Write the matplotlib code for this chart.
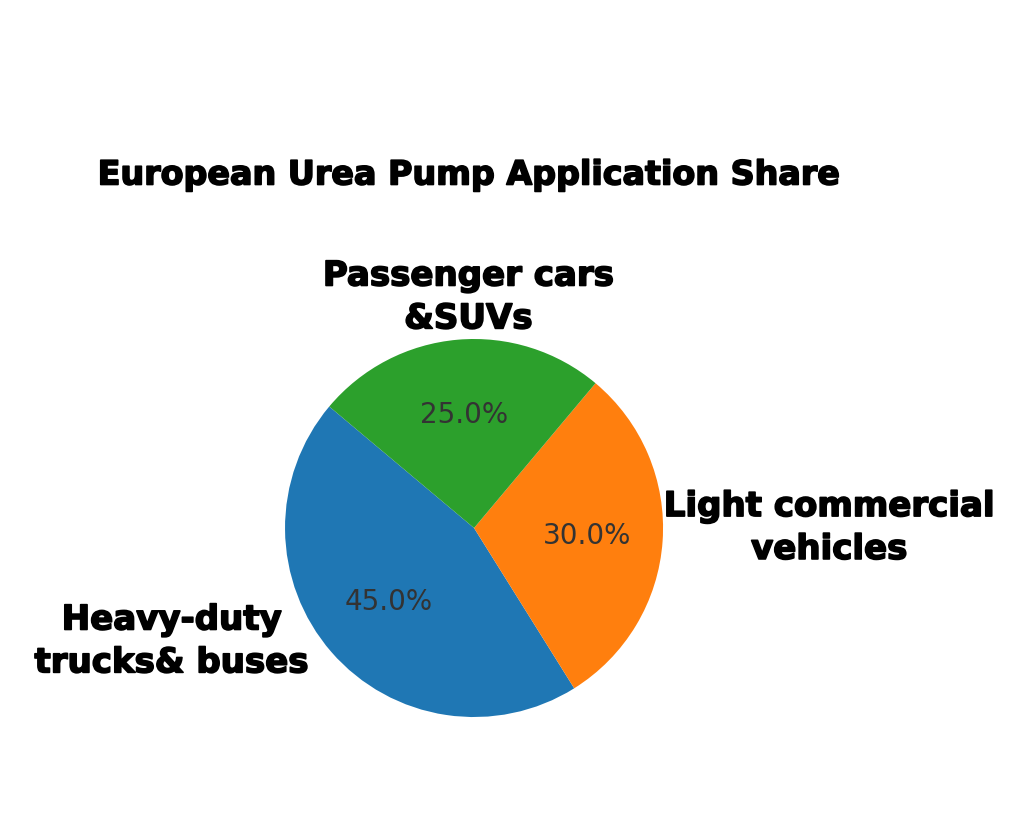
import matplotlib
matplotlib.use("Agg")
import matplotlib.pyplot as plt
import matplotlib.patheffects as pe

# data
labels = ["Heavy-duty\ntrucks& buses", "Light commercial\nvehicles", "Passenger cars\n&SUVs"]
shares = [45, 30, 25]
colors = ["#1f77b4", "#ff7f0e", "#2ca02c"]

# where the category labels sit (in pie radii from the centre)
label_pos = [(-1.60, -0.60), (1.88, 0.0), (-0.03, 1.22)]

heavy = [pe.withStroke(linewidth=1.2, foreground="black")]

fig = plt.figure(figsize=(10.14, 8.35), dpi=100)
ax = fig.add_axes([0.2345, 0.0847, 0.466, 0.5659])

wedges, texts, autotexts = ax.pie(shares, labels=labels, colors=colors,
                                  autopct="%1.1f%%", startangle=140,
                                  pctdistance=0.6)

for t, (x, y) in zip(texts, label_pos):
    t.set_position((x, y))
    t.set_ha("center")
    t.set_va("center")
    t.set_multialignment("center")
    t.set_linespacing(1.38)
    t.set_fontsize(24.5)
    t.set_fontweight("bold")
    t.set_fontfamily("DejaVu Sans")
    t.set_color("black")
    t.set_path_effects(heavy)

for t in autotexts:
    t.set_fontsize(20)
    t.set_color("#333333")

fig.text(469 / 1014, 1 - 175 / 835, "European Urea Pump Application Share",
         ha="center", va="center", fontsize=24, fontweight="bold",
         family="DejaVu Sans", path_effects=heavy)

fig.savefig("out.png", dpi=100)
